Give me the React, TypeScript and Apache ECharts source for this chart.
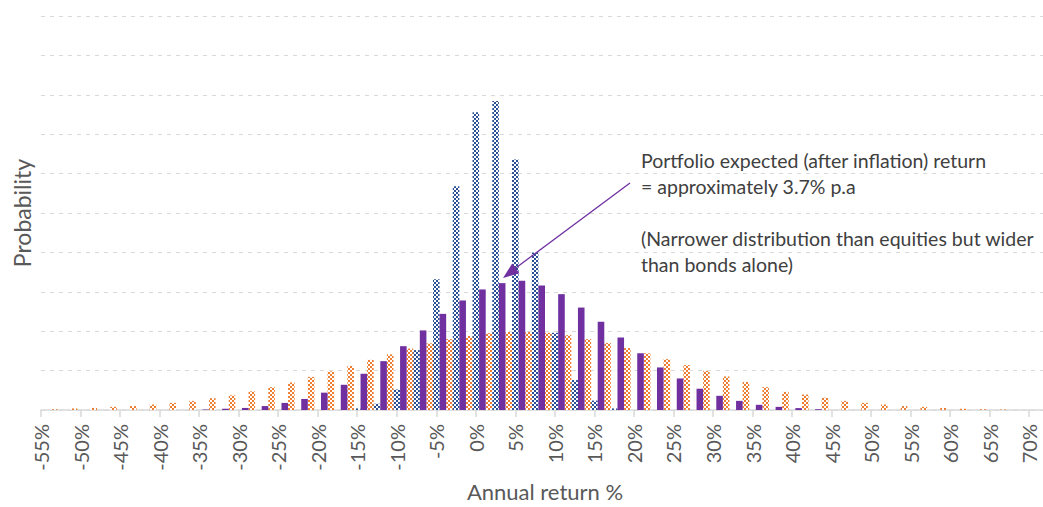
import React, { useEffect, useRef } from "react";
import * as echarts from "echarts";

// Annual return categories (-55% .. 72.5% in 2.5% steps)
const returnSteps: number[] = [
  -55, -52.5, -50, -47.5, -45, -42.5, -40, -37.5, -35, -32.5, -30, -27.5, -25,
  -22.5, -20, -17.5, -15, -12.5, -10, -7.5, -5, -2.5, 0, 2.5, 5, 7.5, 10, 12.5,
  15, 17.5, 20, 22.5, 25, 27.5, 30, 32.5, 35, 37.5, 40, 42.5, 45, 47.5, 50,
  52.5, 55, 57.5, 60, 62.5, 65, 67.5, 70, 72.5,
];
const categories: string[] = returnSteps.map((v) => `${v}%`);

// Probability (%) per return bucket
const equities: number[] = [
  0, 0.05, 0.1, 0.13, 0.2, 0.25, 0.35, 0.45, 0.58, 0.75, 0.93, 1.18, 1.45, 1.75,
  2.1, 2.45, 2.8, 3.18, 3.53, 3.9, 4.23, 4.5, 4.7, 4.88, 4.95, 4.95, 4.9, 4.75,
  4.5, 4.25, 3.93, 3.6, 3.23, 2.85, 2.48, 2.13, 1.78, 1.45, 1.15, 0.98, 0.78,
  0.58, 0.45, 0.35, 0.25, 0.2, 0.13, 0.08, 0.05, 0.03, 0, 0,
];
const bonds: number[] = [
  0, 0, 0, 0, 0, 0, 0, 0, 0, 0, 0, 0, 0, 0, 0, 0, 0.1, 0.4, 1.3, 3.8, 8.3, 14.2,
  18.9, 19.6, 15.9, 10.0, 4.9, 1.9, 0.6, 0.1, 0, 0, 0, 0, 0, 0, 0, 0, 0, 0, 0, 0,
  0, 0, 0, 0, 0, 0, 0, 0, 0, 0,
];
const portfolio: number[] = [
  0, 0, 0, 0, 0, 0, 0, 0, 0.03, 0.08, 0.13, 0.25, 0.45, 0.7, 1.1, 1.6, 2.3, 3.1,
  4.05, 5.05, 6.1, 6.95, 7.65, 8.05, 8.2, 7.9, 7.35, 6.5, 5.6, 4.6, 3.6, 2.7,
  2.0, 1.35, 0.9, 0.58, 0.33, 0.2, 0.12, 0.05, 0, 0, 0, 0, 0, 0, 0, 0, 0, 0, 0,
  0,
];

const annotation =
  "Portfolio expected (after inflation) return\n= approximately 3.7% p.a\n\n(Narrower distribution than equities but wider\nthan bonds alone)";

function makeChecker(color: string, cell: number) {
  const c = document.createElement("canvas");
  c.width = cell * 2;
  c.height = cell * 2;
  const ctx = c.getContext("2d")!;
  ctx.fillStyle = "#ffffff";
  ctx.fillRect(0, 0, cell * 2, cell * 2);
  ctx.fillStyle = color;
  ctx.fillRect(0, 0, cell, cell);
  ctx.fillRect(cell, cell, cell, cell);
  return c;
}

export default function App() {
  const ref = useRef<HTMLDivElement>(null);
  useEffect(() => {
    if (!ref.current) return;
    document.body.style.overflow = "hidden";
    const chart = echarts.init(ref.current, undefined, { renderer: "svg" });
    const bluePat = makeChecker("#2A4F94", 2);
    const orangePat = makeChecker("#ED7D31", 2);
    const font = "Lato";
    chart.setOption({
      animation: false,
      backgroundColor: "#ffffff",
      textStyle: { fontFamily: font },
      grid: {
        left: 41,
        top: 16,
        width: 1008,
        height: 394,
        containLabel: false,
        outerBoundsMode: "none",
      },
      xAxis: {
        type: "category",
        data: categories,
        boundaryGap: false,
        name: "Annual return %",
        nameLocation: "middle",
        nameGap: 70,
        nameTextStyle: {
          fontSize: 22,
          lineHeight: 22,
          color: "#595959",
          fontFamily: font,
        },
        axisLine: { lineStyle: { color: "#D9D9D9", width: 1.5 } },
        axisTick: { interval: 1, length: 7, lineStyle: { color: "#D9D9D9", width: 1.5 } },
        axisLabel: {
          interval: 1,
          rotate: 90,
          margin: 14,
          fontSize: 20,
          lineHeight: 18,
          color: "#595959",
          fontFamily: font,
        },
        splitLine: { show: false },
      },
      yAxis: {
        type: "value",
        min: 0,
        max: 25,
        interval: 2.5,
        name: "Probability",
        nameLocation: "middle",
        nameGap: 8,
        nameTextStyle: { fontSize: 23, color: "#595959", fontFamily: font },
        axisLine: { show: false },
        axisTick: { show: false },
        axisLabel: { show: false },
        splitLine: {
          lineStyle: { color: "#D9D9D9", width: 1.2, type: [4, 5] },
        },
      },
      series: [
        {
          name: "Equities",
          type: "bar",
          data: equities,
          barGap: "0%",
          barCategoryGap: "0%",
          itemStyle: { color: { image: orangePat, repeat: "repeat" } },
        },
        {
          name: "Bonds",
          type: "bar",
          data: bonds,
          barGap: "0%",
          barCategoryGap: "0%",
          itemStyle: { color: { image: bluePat, repeat: "repeat" } },
        },
        {
          name: "Portfolio",
          type: "bar",
          data: portfolio,
          barGap: "0%",
          barCategoryGap: "0%",
          itemStyle: { color: "#7030A0" },
        },
      ],
      graphic: [
        {
          type: "line",
          shape: { x1: 630, y1: 183, x2: 513, y2: 270 },
          style: { stroke: "#7030A0", lineWidth: 1.3 },
          z: 100,
        },
        {
          type: "polygon",
          shape: {
            points: [
              [503, 278],
              [519.4, 273.2],
              [512.2, 263.6],
            ],
          },
          style: { fill: "#7030A0" },
          z: 100,
        },
        {
          type: "text",
          x: 641,
          y: 147,
          style: {
            text: annotation,
            fontSize: 19.5,
            fontFamily: font,
            fill: "#404040",
            lineHeight: 26,
            verticalAlign: "top",
          },
          z: 100,
        },
      ],
    });
    return () => chart.dispose();
  }, []);
  return (
    <div
      ref={ref}
      style={{
        position: "absolute",
        left: 0,
        top: 0,
        width: 1043,
        height: 507,
        overflow: "hidden",
      }}
    />
  );
}
